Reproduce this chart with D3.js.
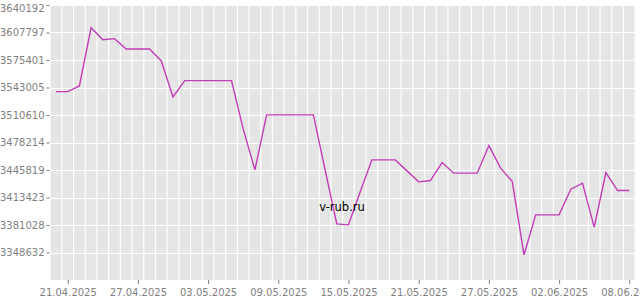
<!DOCTYPE html>
<html lang="en">
<head>
    <meta charset="UTF-8">
    <title>v-rub.ru</title>
    <script src="https://d3js.org/d3.v7.min.js"></script>
    <style>
        body { margin: 0; background: #fff; }
        svg text { font-family: "DejaVu Sans", sans-serif; }
    </style>
</head>
<body>
    <div id="chart"></div>
    <script>
        // daily values, 20.04.2025 .. 08.06.2025
        const dates = ["20.04.2025", "21.04.2025", "22.04.2025", "23.04.2025", "24.04.2025", "25.04.2025",
            "26.04.2025", "27.04.2025", "28.04.2025", "29.04.2025", "30.04.2025", "01.05.2025", "02.05.2025",
            "03.05.2025", "04.05.2025", "05.05.2025", "06.05.2025", "07.05.2025", "08.05.2025", "09.05.2025",
            "10.05.2025", "11.05.2025", "12.05.2025", "13.05.2025", "14.05.2025", "15.05.2025", "16.05.2025",
            "17.05.2025", "18.05.2025", "19.05.2025", "20.05.2025", "21.05.2025", "22.05.2025", "23.05.2025",
            "24.05.2025", "25.05.2025", "26.05.2025", "27.05.2025", "28.05.2025", "29.05.2025", "30.05.2025",
            "31.05.2025", "01.06.2025", "02.06.2025", "03.06.2025", "04.06.2025", "05.06.2025", "06.06.2025",
            "07.06.2025", "08.06.2025"]
        const values = [3538137, 3538137, 3544847, 3613472, 3599347, 3600524,
            3588400, 3588400, 3588400, 3574274, 3531899, 3551086, 3551086,
            3551086, 3551086, 3551086, 3494232, 3445970, 3510711, 3510711,
            3510711, 3510711, 3510711, 3445970, 3382407, 3381230, 3420074,
            3457741, 3457741, 3457741, 3444793, 3431845, 3433375, 3454563,
            3442086, 3442086, 3442086, 3474574, 3447971, 3432198, 3345917,
            3393001, 3393001, 3393001, 3423252, 3430314, 3378523, 3442792,
            3421604, 3421604]
        const yTicks = [3640192, 3607797, 3575401, 3543005, 3510610, 3478214, 3445819, 3413423, 3381028, 3348632]
        const xTickLabels = ["21.04.2025", "27.04.2025", "03.05.2025", "09.05.2025", "15.05.2025",
            "21.05.2025", "27.05.2025", "02.06.2025", "08.06.2025"]

        const width = 640
        const height = 300
        const plot = {left: 50.5, right: 635.5, top: 5, bottom: 280}
        const parse = d3.utcParse("%d.%m.%Y")
        const fmt = d3.utcFormat("%d.%m.%Y")

        const data = dates.map((d, i) => ({date: parse(d), value: values[i]}))
        const xTickDates = xTickLabels.map(parse)

        const svg = d3.select("#chart").append("svg")
            .attr("width", width)
            .attr("height", height)

        const x = d3.scaleUtc()
            .domain([xTickDates[0], xTickDates[xTickDates.length - 1]])
            .range([67.7, 629.3])
        const yStep = yTicks[0] - yTicks[1]
        const y = d3.scaleLinear()
            .domain([yTicks[yTicks.length - 1] - yStep, yTicks[0]])
            .range([plot.bottom, plot.top])

        svg.append("rect")
            .attr("x", plot.left)
            .attr("y", plot.top)
            .attr("width", plot.right - plot.left)
            .attr("height", plot.bottom - plot.top)
            .attr("fill", "#e5e5e5")

        // vertical grid sits half a day before each day tick
        const halfDay = (x(d3.utcDay.offset(xTickDates[0], 1)) - x(xTickDates[0])) / 2
        const gridDays = d3.utcDays(d3.utcDay.offset(data[0].date, -2), d3.utcDay.offset(data[data.length - 1].date, 3))
        const grid = svg.append("g").attr("stroke", "#fff").attr("stroke-width", 1.2)
        grid.selectAll("line.v")
            .data(gridDays.map(d => x(d) - halfDay).filter(px => px > plot.left + 1 && px <= plot.right))
            .enter().append("line")
            .attr("class", "v")
            .attr("x1", d => d).attr("x2", d => d)
            .attr("y1", plot.top).attr("y2", plot.bottom)
        grid.selectAll("line.h")
            .data(yTicks)
            .enter().append("line")
            .attr("class", "h")
            .attr("x1", plot.left).attr("x2", plot.right)
            .attr("y1", d => Math.round(y(d)) + 0.5).attr("y2", d => Math.round(y(d)) + 0.5)

        const yAxis = svg.append("g")
            .attr("transform", `translate(${plot.left - 1},0)`)
            .call(d3.axisLeft(y).tickValues(yTicks).tickSize(3).tickPadding(2).tickFormat(d => d))
        yAxis.select(".domain").remove()
        // the top label is nudged down so it stays inside the picture
        yAxis.selectAll(".tick text").filter(d => d === yTicks[0]).attr("dy", "0.62em")

        const xAxis = svg.append("g")
            .attr("transform", `translate(0,${plot.bottom})`)
            .call(d3.axisBottom(x).tickValues(xTickDates).tickSize(4).tickPadding(5).tickFormat(fmt))
        xAxis.select(".domain").remove()

        svg.selectAll(".tick line").attr("stroke", "#7f7f7f")
        svg.selectAll(".tick text")
            .attr("fill", "#7f7f7f")
            .attr("font-size", 10)
            .attr("font-family", "DejaVu Sans")

        const line = d3.line()
            .x(d => x(d.date))
            .y(d => y(d.value))
        svg.append("path")
            .attr("d", line(data))
            .attr("fill", "none")
            .attr("stroke", "#c23db6")
            .attr("stroke-width", 1.4)

        svg.append("text")
            .attr("x", 342)
            .attr("y", 211)
            .attr("text-anchor", "middle")
            .attr("font-size", 11.5)
            .attr("fill", "#000")
            .text("v-rub.ru")
    </script>
</body>
</html>
